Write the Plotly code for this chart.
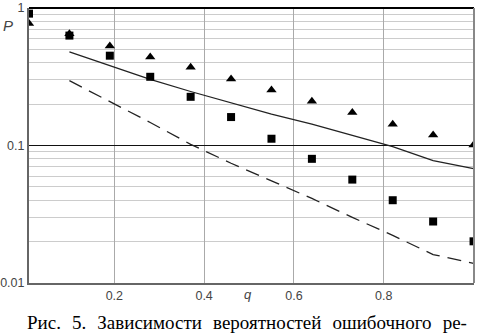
import plotly.graph_objects as go

q_pts = [0.01, 0.1, 0.19, 0.28, 0.37, 0.46, 0.55, 0.64, 0.73, 0.82, 0.91, 1.0]
p_triangles = [0.77, 0.65, 0.53, 0.44, 0.37, 0.305, 0.253, 0.21, 0.174, 0.143, 0.119, 0.101]
p_squares = [0.91, 0.63, 0.45, 0.316, 0.226, 0.161, 0.112, 0.08, 0.0565, 0.04, 0.028, 0.0201]

q_line = [0.1, 0.19, 0.28, 0.37, 0.46, 0.55, 0.64, 0.73, 0.82, 0.91, 1.0]
p_solid = [0.48, 0.38, 0.303, 0.247, 0.204, 0.169, 0.143, 0.119, 0.098, 0.0775, 0.068]
p_dashed = [0.296, 0.21, 0.147, 0.102, 0.0743, 0.0553, 0.0412, 0.030, 0.0222, 0.0161, 0.0139]

x_ticks = [0.2, 0.4, 0.6, 0.8]
y_ticks = [0.01, 0.1, 1]
y_tick_text = ["0.01", "0.1", "1"]
y_minor = [k * 10 ** e for e in (-2, -1) for k in range(2, 10)]

caption_words = ["Рис.", "5.", "Зависимости", "вероятностей", "ошибочного", "ре-"]
caption = "\u00a0\u00a0\u200a".join(caption_words)

fig = go.Figure()
fig.add_trace(go.Scatter(x=q_line, y=p_solid, mode="lines",
                         line=dict(color="#222222", width=1.3)))
fig.add_trace(go.Scatter(x=q_line, y=p_dashed, mode="lines",
                         line=dict(color="#222222", width=1.3, dash="14px,8px")))
fig.add_trace(go.Scatter(x=q_pts, y=p_squares, mode="markers",
                         marker=dict(symbol="square", size=8, color="black")))
fig.add_trace(go.Scatter(x=q_pts, y=p_triangles, mode="markers",
                         marker=dict(symbol="triangle-up", size=9, color="black")))

tick_font = dict(family="Liberation Sans, Arial, sans-serif", size=12.5, color="#444444")

fig.update_layout(
    width=480, height=336,
    margin=dict(l=29, r=6, t=8, b=53, autoexpand=False),
    paper_bgcolor="white", plot_bgcolor="white",
    showlegend=False,
    xaxis=dict(range=[0.01, 1.001], tickvals=x_ticks, ticktext=["0.2", "0.4", "0.6", "0.8"],
               showgrid=True, gridcolor="#aaaaaa", gridwidth=1, automargin=False,
               showline=True, linecolor="#666666", linewidth=2, mirror=False,
               ticks="", tickfont=tick_font, zeroline=False),
    yaxis=dict(type="log", range=[-2, 0], tickvals=y_ticks, ticktext=y_tick_text,
               showgrid=True, gridcolor="#111111", gridwidth=1, automargin=False,
               minor=dict(tickvals=y_minor, showgrid=True, gridcolor="#cccccc", gridwidth=1, ticks=""),
               showline=True, linecolor="#666666", linewidth=2,
               ticks="", tickfont=tick_font, zeroline=False),
    annotations=[
        dict(text="<i>P</i>", xref="paper", yref="paper", x=-0.048, y=0.935,
             xanchor="center", yanchor="middle",
             showarrow=False, font=dict(family="Liberation Sans, Arial", size=15, color="#444444")),
        dict(text="<i>q</i>", xref="paper", yref="paper", x=0.492, y=-0.04,
             showarrow=False, xanchor="center", yanchor="middle",
             font=dict(family="Liberation Sans, Arial", size=13, color="#444444")),
        dict(text=caption, xref="paper", yref="paper", x=0.491, y=-0.142,
             xanchor="center", yanchor="middle",
             showarrow=False, font=dict(family="Liberation Serif, Times New Roman, serif", size=19, color="black")),
    ],
    shapes=[
        dict(type="line", xref="paper", yref="paper", x0=0, x1=1, y0=1, y1=1,
             line=dict(color="black", width=2)),
        dict(type="line", xref="paper", yref="paper", x0=1, x1=1, y0=0, y1=1,
             line=dict(color="#888888", width=2)),
    ],
)

fig.write_html("out.html", config={"displayModeBar": False},
               post_script="document.body.style.margin='0';")
